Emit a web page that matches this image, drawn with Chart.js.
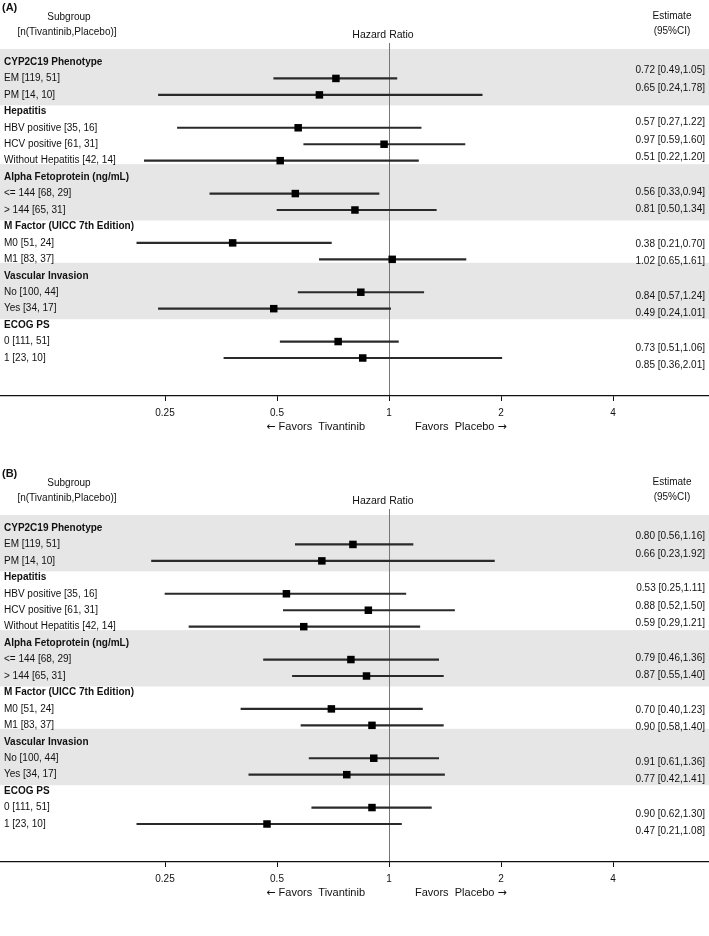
<!DOCTYPE html>
<html>
<head>
<meta charset="utf-8">
<script src="https://cdn.jsdelivr.net/npm/chart.js@4/dist/chart.umd.min.js"></script>
<style>
  body { margin: 0; background: #fff; }
  canvas { display: block; }
  #spacer { height: 4px; }
</style>
</head>
<body>
<canvas id="chart-a" width="709" height="466"></canvas>
<canvas id="chart-b" width="709" height="466"></canvas>
<div id="spacer"></div>
<script>
// rows shared by both panels (headers have no estimate)
const rowLabels = [
    'CYP2C19 Phenotype', 'EM [119, 51]', 'PM [14, 10]',
    'Hepatitis', 'HBV positive [35, 16]', 'HCV positive [61, 31]', 'Without Hepatitis [42, 14]',
    'Alpha Fetoprotein (ng/mL)', '<= 144 [68, 29]', '> 144 [65, 31]',
    'M Factor (UICC 7th Edition)', 'M0 [51, 24]', 'M1 [83, 37]',
    'Vascular Invasion', 'No [100, 44]', 'Yes [34, 17]',
    'ECOG PS', '0 [111, 51]', '1 [23, 10]'
];
const headerRows = [0, 3, 7, 10, 13, 16];
const shadedGroups = [[0, 2], [7, 9], [13, 15]];
const xTicks = [0.25, 0.5, 1, 2, 4];

// panel A
const hrA = [null, 0.72, 0.65, null, 0.57, 0.97, 0.51, null, 0.56, 0.81, null, 0.38, 1.02, null, 0.84, 0.49, null, 0.73, 0.85];
const loA = [null, 0.49, 0.24, null, 0.27, 0.59, 0.22, null, 0.33, 0.50, null, 0.21, 0.65, null, 0.57, 0.24, null, 0.51, 0.36];
const hiA = [null, 1.05, 1.78, null, 1.22, 1.60, 1.20, null, 0.94, 1.34, null, 0.70, 1.61, null, 1.24, 1.01, null, 1.06, 2.01];

// panel B
const hrB = [null, 0.80, 0.66, null, 0.53, 0.88, 0.59, null, 0.79, 0.87, null, 0.70, 0.90, null, 0.91, 0.77, null, 0.90, 0.47];
const loB = [null, 0.56, 0.23, null, 0.25, 0.52, 0.29, null, 0.46, 0.55, null, 0.40, 0.58, null, 0.61, 0.42, null, 0.62, 0.21];
const hiB = [null, 1.16, 1.92, null, 1.11, 1.50, 1.21, null, 1.36, 1.40, null, 1.23, 1.40, null, 1.36, 1.41, null, 1.30, 1.08];

const FONT = '"Liberation Sans", Arial, Helvetica, sans-serif';
const ARROW_FONT = '"DejaVu Sans", sans-serif';
const TEXT = '#111';

// where things sit in the picture (px inside one panel)
const X_ONE = 389, X_DOUBLE = 112;
const ROW_FIRST = 62, ROW_LAST = 358;

function fmt(v) { return v.toFixed(2); }

// grey bands behind groups + all the header texts
const forestDecor = {
    id: 'forestDecor',
    beforeDraw(chart) {
        const ctx = chart.ctx;
        const y = chart.scales.y;
        const step = Math.abs(y.getPixelForValue(1) - y.getPixelForValue(0));
        ctx.save();
        ctx.fillStyle = '#e6e6e6';
        shadedGroups.forEach(g => {
            const top = y.getPixelForValue(g[0]) - 0.79 * step;
            const bottom = y.getPixelForValue(g[1]) + 0.64 * step;
            ctx.fillRect(0, top, chart.width, bottom - top);
        });
        ctx.restore();
    },
    afterDraw(chart) {
        const ctx = chart.ctx;
        const one = chart.scales.x.getPixelForValue(1);
        const tag = chart.options.plugins.forestDecor.tag;
        ctx.save();
        ctx.fillStyle = TEXT;
        ctx.textBaseline = 'middle';

        ctx.font = 'bold 11px ' + FONT;
        ctx.textAlign = 'left';
        ctx.fillText(tag, 2, 8);

        ctx.font = '10px ' + FONT;
        ctx.textAlign = 'center';
        ctx.fillText('Subgroup', 69, 17);
        ctx.fillText('[n(Tivantinib,Placebo)]', 67, 32);
        ctx.fillText('Estimate', 672, 16);
        ctx.fillText('(95%CI)', 672, 31);
        ctx.font = '10.5px ' + FONT;
        ctx.fillText('Hazard Ratio', one - 6, 35);

        // favours labels, arrows drawn in a font with a bigger arrow glyph
        const fy = chart.chartArea.bottom + 31;
        ctx.font = '11px ' + FONT;
        const leftText = ' Favors  Tivantinib';
        const leftEnd = one - 24;
        const leftW = ctx.measureText(leftText).width;
        ctx.textAlign = 'right';
        ctx.fillText(leftText, leftEnd, fy);
        const rightText = 'Favors  Placebo ';
        const rightStart = one + 26;
        const rightW = ctx.measureText(rightText).width;
        ctx.textAlign = 'left';
        ctx.fillText(rightText, rightStart, fy);
        ctx.font = '11px ' + ARROW_FONT;
        ctx.textAlign = 'right';
        ctx.fillText('\u2190', leftEnd - leftW, fy);
        ctx.textAlign = 'left';
        ctx.fillText('\u2192', rightStart + rightW, fy);
        ctx.restore();
    }
};

function rowTicks(axis) {
    axis.ticks = rowLabels.map((_, i) => ({ value: i }));
}

// mirrored label axes take no room and ask for no padding
function noRoom(axis) {
    axis.width = 0;
    axis.paddingTop = 0;
    axis.paddingBottom = 0;
}

// put x = 1 and the rows where they sit in the picture
function calibrate(chart) {
    const x = chart.scales.x;
    const xs = chart.options.scales.x;
    const p1 = x.getPixelForValue(1);
    const k = x.getPixelForValue(2) - p1;
    const lmin = Math.log2(xs.min), lmax = Math.log2(xs.max);
    const xStart = p1 + lmin * k;
    const xLen = k * (lmax - lmin);
    const newMin = (xStart - X_ONE) / X_DOUBLE;
    xs.min = Math.pow(2, newMin);
    xs.max = Math.pow(2, newMin + xLen / X_DOUBLE);

    const y = chart.scales.y;
    const ys = chart.options.scales.y;
    const p0 = y.getPixelForValue(0);
    const b = y.getPixelForValue(1) - p0;
    const yStart = p0 + ys.min * b;
    const yLen = b * (ys.max - ys.min);
    const unit = (ROW_LAST - ROW_FIRST) / (rowLabels.length - 1);
    const min = (yStart - ROW_FIRST) / unit;
    const max = min + yLen / unit;
    ['y', 'est'].forEach(id => {
        chart.options.scales[id].min = min;
        chart.options.scales[id].max = max;
    });
    chart.update();
}

function makeForest(canvasId, tag, hr, lo, hi) {
    const rows = rowLabels.map((_, i) => i).filter(i => hr[i] !== null);
    const estimates = rowLabels.map((_, i) =>
        hr[i] === null ? '' : fmt(hr[i]) + ' [' + fmt(lo[i]) + ',' + fmt(hi[i]) + ']');

    const yCommon = {
        type: 'linear',
        reverse: true,
        min: -1.16,
        max: 20.31,
        afterBuildTicks: rowTicks,
        afterFit: noRoom,
        grid: { display: false, drawTicks: false },
        border: { display: false }
    };

    const chart = new Chart(document.getElementById(canvasId), {
        type: 'scatter',
        data: {
            datasets: [{
                label: 'Hazard ratio',
                data: rows.map(i => ({ x: hr[i], y: i })),
                pointStyle: 'rect',
                pointRadius: 5.3,
                backgroundColor: '#000',
                borderWidth: 0
            }, {
                type: 'bar',
                label: '95% CI',
                indexAxis: 'y',
                data: rows.map(i => ({ x: [lo[i], hi[i]], y: i })),
                backgroundColor: '#2a2a2a',
                borderWidth: 0,
                barThickness: 1.5
            }]
        },
        options: {
            responsive: false,
            animation: false,
            devicePixelRatio: 1,
            events: [],
            layout: { autoPadding: false, padding: { top: 43, bottom: 41, left: 0, right: 0 } },
            plugins: {
                legend: { display: false },
                tooltip: { enabled: false },
                forestDecor: { tag: tag }
            },
            scales: {
                x: {
                    type: 'logarithmic',
                    position: 'bottom',
                    bounds: 'data',
                    min: Math.pow(2, -X_ONE / X_DOUBLE),
                    max: Math.pow(2, (709 - X_ONE) / X_DOUBLE),
                    afterBuildTicks: axis => { axis.ticks = xTicks.map(v => ({ value: v })); },
                    afterFit: axis => { axis.paddingLeft = 0; axis.paddingRight = 0; },
                    ticks: {
                        callback: v => String(v),
                        color: TEXT,
                        padding: 6,
                        maxRotation: 0,
                        autoSkip: false,
                        font: { family: FONT, size: 10 }
                    },
                    grid: {
                        color: c => (c.tick && c.tick.value === 1) ? '#777' : 'rgba(0,0,0,0)',
                        tickColor: '#111',
                        tickLength: 5,
                        lineWidth: 1
                    },
                    border: { color: '#111', width: 1.2 }
                },
                y: Object.assign({}, yCommon, {
                    position: 'left',
                    ticks: {
                        mirror: true,
                        padding: 4,
                        autoSkip: false,
                        color: TEXT,
                        callback: v => rowLabels[v],
                        font: c => ({
                            family: FONT,
                            size: 10,
                            weight: headerRows.includes(c.index) ? 'bold' : 'normal'
                        })
                    }
                }),
                est: Object.assign({}, yCommon, {
                    position: 'right',
                    ticks: {
                        mirror: true,
                        // right mirrored labels end at left + padding
                        padding: -4,
                        autoSkip: false,
                        color: TEXT,
                        callback: v => estimates[v],
                        font: { family: FONT, size: 10 }
                    }
                })
            }
        },
        plugins: [forestDecor]
    });
    calibrate(chart);
    calibrate(chart);
    return chart;
}

makeForest('chart-a', '(A)', hrA, loA, hiA);
makeForest('chart-b', '(B)', hrB, loB, hiB);
</script>
</body>
</html>
